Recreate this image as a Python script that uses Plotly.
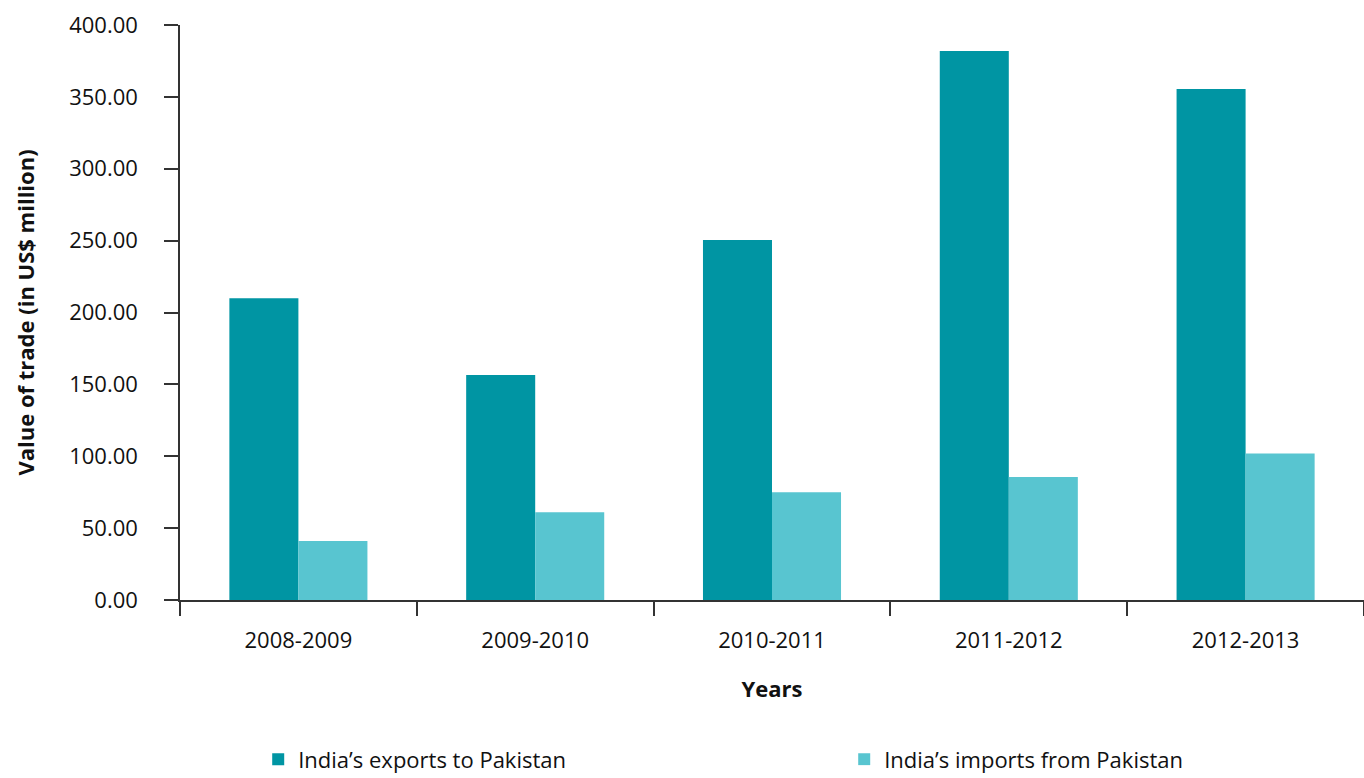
import plotly.graph_objects as go

years = ["2008-2009", "2009-2010", "2010-2011", "2011-2012", "2012-2013"]
exports = [210.0, 156.5, 250.5, 382.0, 355.5]
imports = [41.0, 61.0, 75.0, 85.5, 102.0]

font_family = "Open Sans"

fig = go.Figure()
fig.add_trace(go.Bar(x=years, y=exports, name="India’s exports to Pakistan",
                     marker=dict(color="#0095A3", line=dict(width=0))))
fig.add_trace(go.Bar(x=years, y=imports, name="India’s imports from Pakistan",
                     marker=dict(color="#58C5D0", line=dict(width=0))))

fig.update_layout(
    width=1364, height=778,
    margin=dict(l=180, r=0, t=25, b=178, autoexpand=False),
    paper_bgcolor="white", plot_bgcolor="white",
    barmode="group", bargap=0.417, bargroupgap=0,
    font=dict(family=font_family, size=22, color="#111111"),
    showlegend=True,
    legend=dict(orientation="h", xref="container", yref="container",
                x=0.1893, xanchor="left", y=0.024, yanchor="middle",
                entrywidth=541, entrywidthmode="pixels",
                font=dict(size=22, family=font_family)),
)
fig.update_xaxes(
    showline=True, linecolor="#333333", linewidth=1.5,
    ticks="outside", tickson="boundaries", ticklen=14, tickcolor="#333333", tickwidth=1.5,
    tickfont=dict(size=22), ticklabelstandoff=20,
    title=dict(text="<b>Years</b>", font=dict(size=22), standoff=28),
    showgrid=False, zeroline=False,
)
fig.update_yaxes(
    range=[0, 400], dtick=50, tickformat=".2f",
    showline=True, linecolor="#333333", linewidth=1.5,
    ticks="outside", ticklen=14, tickcolor="#333333", tickwidth=1.5,
    tickfont=dict(size=22), ticklabelstandoff=22,
    title=dict(text="<b>Value of trade (in US$ million)</b>", font=dict(size=22), standoff=28),
    showgrid=False, zeroline=False,
)

fig.write_html("out.html")
